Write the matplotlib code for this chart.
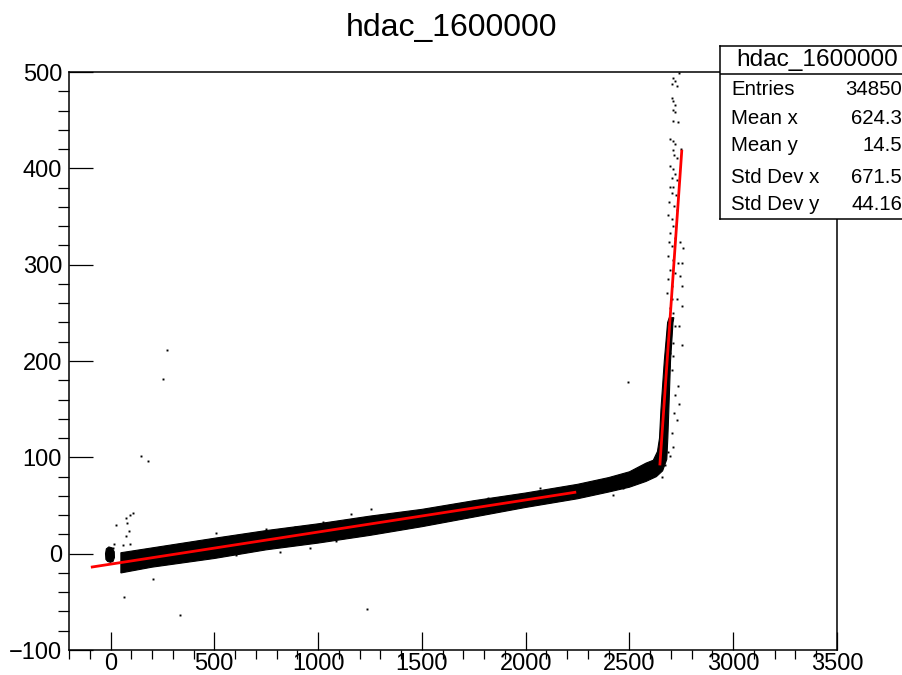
import numpy as np
import matplotlib
matplotlib.use('Agg')
import matplotlib.pyplot as plt
from matplotlib.ticker import MultipleLocator

plt.rcParams['font.family'] = ['Liberation Sans', 'DejaVu Sans']

hist_name = 'hdac_1600000'

# stats box rows (label, value)
stat_labels = ['Entries', 'Mean x', 'Mean y', 'Std Dev x', 'Std Dev y']
stat_values = ['34850', '624.3', '14.5', '671.5', '44.16']

# outline of the dense band of entries (lower/right edge out, upper/left edge back)
band_x = [50, 200, 500, 750, 1000, 1250, 1500, 1750, 2000, 2250, 2400, 2500,
          2580, 2630, 2660, 2680, 2685, 2690, 2698, 2710, 2714,
          2692, 2684, 2668, 2652, 2645, 2635, 2615, 2580, 2500, 2400, 2250,
          2000, 1750, 1500, 1250, 1000, 750, 500, 200, 50]
band_y = [-20, -14, -5, 4, 11, 19, 28, 38, 48, 57, 64, 69,
          75, 80, 86, 98, 120, 150, 200, 240, 245,
          245, 240, 200, 150, 120, 106, 97, 94, 85, 79, 72,
          63, 55, 46, 39, 31, 24, 16, 6, 1]

# small cluster of entries sitting at the origin
blob_x = [-22, -24, -20, -8, 8, 18, 19, 12, 0, -14]
blob_y = [-6, 0, 5, 7, 6, 2, -4, -8, -9, -8]

# sparse entries along the steep part
rise_x = [2740, 2711, 2719, 2703, 2727, 2703, 2711, 2719, 2711, 2719, 2711, 2735,
          2695, 2711, 2719, 2711, 2747, 2715, 2727, 2695, 2711, 2719, 2703, 2730,
          2695, 2711, 2703, 2723, 2691, 2715, 2727, 2687, 2703, 2711, 2695, 2719,
          2691, 2743, 2703, 2756, 2687, 2711, 2735, 2752, 2695, 2719, 2743, 2687,
          2707, 2752, 2679, 2703, 2727, 2752, 2695, 2711, 2687, 2695, 2719, 2740,
          2679, 2695, 2711, 2752, 2679, 2695, 2711, 2679, 2691, 2703,
          2735, 2719, 2740, 2715, 2728, 2703, 2711, 2687, 2695, 2671, 2655]
rise_y = [499, 494, 491, 488, 485, 473, 470, 466, 461, 458, 449, 448,
          430, 428, 425, 419, 420, 414, 411, 402, 399, 394, 390, 388,
          381, 381, 374, 372, 365, 361, 357, 352, 347, 340, 333, 328,
          324, 324, 319, 317, 309, 305, 302, 302, 295, 291, 288, 285,
          278, 278, 271, 264, 264, 257, 255, 250, 239, 236, 236, 236,
          226, 222, 219, 217, 212, 208, 205, 200, 195, 191,
          174, 165, 155, 146, 139, 125, 111, 106, 101, 92, 80]

# stray entries away from the band
stray_x = [273, 252, 149, 183, 108, 96, 76, 80, 27, 88, 76, 19, 59, 96, 11,
           63, 204, 333, 1234, 2491, 2422, 2470, 2068, 1819, 1257,
           510, 751, 887, 1024, 1160, 606, 815, 960, 1088]
stray_y = [211, 181, 101, 96, 42, 40, 37, 32, 30, 24, 18, 10, 9, 10, 6,
           -45, -26, -64, -57, 178, 61, 68, 68, 58, 46,
           21, 26, 28, 33, 41, -1, 2, 6, 13]

# linear fits (red)
fit1_x = [-88, 2237]
fit1_y = [-13.8, 63.7]
fit2_x = [2647, 2752]
fit2_y = [93.1, 417.8]

fig = plt.figure(figsize=(9.03, 6.75), dpi=100)
ax = fig.add_axes([0.0764, 0.037, 0.8505, 0.8563])

ax.fill(band_x, band_y, color='k', lw=0.8)
ax.fill(blob_x, blob_y, color='k', lw=0.8)
ax.plot(rise_x, rise_y, ls='', marker='s', ms=1.4, mew=0, color='k')
ax.plot(stray_x, stray_y, ls='', marker='s', ms=1.4, mew=0, color='k')
ax.plot(fit1_x, fit1_y, color='#ff0000', lw=2.0, zorder=5)
ax.plot(fit2_x, fit2_y, color='#ff0000', lw=2.0, zorder=5)

ax.set_xlim(-200, 3500)
ax.set_ylim(-100, 500)
ax.xaxis.set_major_locator(MultipleLocator(500))
ax.xaxis.set_minor_locator(MultipleLocator(100))
ax.yaxis.set_major_locator(MultipleLocator(100))
ax.yaxis.set_minor_locator(MultipleLocator(20))
ax.tick_params(axis='both', direction='in', labelsize=17, width=0.9,
               top=False, right=False)
ax.tick_params(axis='x', which='major', length=12.7, pad=2.5)
ax.tick_params(axis='x', which='minor', length=6.5, width=0.9)
ax.tick_params(axis='y', which='major', length=17.3, pad=5)
ax.tick_params(axis='y', which='minor', length=8, width=0.9)
for sp in ax.spines.values():
    sp.set_linewidth(1.1)

fig.text(0.5, 0.9585, hist_name, ha='center', va='center', fontsize=23)

# stats box in the top right corner, running off the right edge
box = fig.add_axes([0.7973, 0.6756, 0.21, 0.2563], zorder=10)
box.set_xlim(0, 1)
box.set_ylim(0, 1)
box.set_xticks([])
box.set_yticks([])
for sp in box.spines.values():
    sp.set_linewidth(1.1)
box.axhline(0.838, color='k', lw=1.1)
box.text(0.515, 0.919, hist_name, ha='center', va='center', fontsize=17.6)
row_y = [0.746, 0.578, 0.422, 0.237, 0.081]
for label, value, yy in zip(stat_labels, stat_values, row_y):
    box.text(0.058, yy, label, ha='left', va='center', fontsize=14.7)
    box.text(0.96, yy, value, ha='right', va='center', fontsize=14.7)

fig.savefig('out.png', dpi=100)
